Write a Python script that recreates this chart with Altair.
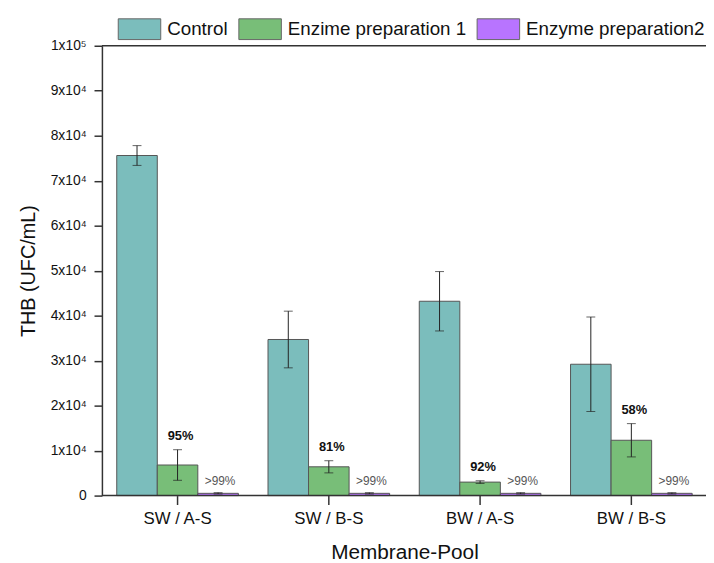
import altair as alt
import pandas as pd

groups = ["SW / A-S", "SW / B-S", "BW / A-S", "BW / B-S"]
series = ["Control", "Enzime preparation 1", "Enzyme preparation2"]
colors = ["#7BBDBC", "#78BE78", "#B874FF"]

control = [75600, 34700, 43200, 29200]
control_err = [2200, 6300, 6600, 10500]
enz1 = [6800, 6400, 3000, 12300]
enz1_err = [3400, 1350, 300, 3700]
enz2 = [500, 500, 500, 500]
enz2_err = [150, 150, 150, 150]

control_labels = ["", "", "", ""]
enz1_labels = ["95%", "81%", "92%", "58%"]
enz2_labels = [">99%", ">99%", ">99%", ">99%"]

y_ticks = [0, 10000, 20000, 30000, 40000, 50000, 60000, 70000, 80000, 90000, 100000]

rows = []
for s, vals, errs, labs in zip(series,
                               [control, enz1, enz2],
                               [control_err, enz1_err, enz2_err],
                               [control_labels, enz1_labels, enz2_labels]):
    for g, v, e, l in zip(groups, vals, errs, labs):
        rows.append({"group": g, "series": s, "value": v, "err": e, "label": l})
df = pd.DataFrame(rows)

base = alt.Chart(df).transform_calculate(
    lo="datum.value - datum.err", hi="datum.value + datum.err"
)

x_enc = alt.X(
    "group:N", sort=groups,
    scale=alt.Scale(range=[0, 612], paddingInner=0.196, paddingOuter=0.098),
    axis=alt.Axis(title="Membrane-Pool", labelAngle=0, domain=False, tickSize=9,
                  tickColor="#333", tickWidth=1.5, labelFontSize=17, labelPadding=6,
                  labelColor="#111", titleFontSize=21, titleFontWeight="normal",
                  titleColor="#111", titlePadding=16),
)
xo_enc = alt.XOffset("series:N", sort=series,
                     scale=alt.Scale(paddingInner=0, paddingOuter=0))
y_axis = alt.Axis(
    values=y_ticks, grid=False, tickSize=8, tickColor="#333", tickWidth=1.5,
    domainColor="#333", domainWidth=1.5, labelFontSize=14, labelPadding=8,
    labelColor="#111",
    labelExpr="datum.value == 0 ? '0' : (datum.value == 100000 ? '1x10\u2075' : (datum.value / 10000) + 'x10\u2074')",
    title="THB (UFC/mL)", titleFontSize=20, titleFontWeight="normal",
    titleColor="#111", titlePadding=12,
)
y_scale = alt.Scale(domain=[0, 100000], nice=False)

bars = base.mark_bar(stroke="#555", strokeWidth=1).encode(
    x=x_enc, xOffset=xo_enc,
    y=alt.Y("value:Q", scale=y_scale, axis=y_axis),
    color=alt.Color(
        "series:N", sort=series,
        scale=alt.Scale(domain=series, range=colors),
        legend=alt.Legend(
            orient="none", legendX=16, legendY=-39, direction="horizontal",
            title=None, symbolType="M-1,-0.488H1V0.488H-1Z", symbolSize=1849,
            symbolStrokeColor="#666", symbolStrokeWidth=1, symbolOpacity=1,
            labelFontSize=19, labelOffset=6, columnPadding=8, labelLimit=400,
            labelColor="#111",
        ),
    ),
)

err_rule = base.mark_rule(color="#222", strokeWidth=1).encode(
    x=x_enc, xOffset=xo_enc,
    y=alt.Y("lo:Q", scale=y_scale, axis=y_axis), y2="hi:Q",
)
cap_hi = base.mark_tick(orient="horizontal", size=9, thickness=1, color="#222").encode(
    x=x_enc, xOffset=xo_enc, y=alt.Y("hi:Q", scale=y_scale, axis=y_axis),
)
cap_lo = base.mark_tick(orient="horizontal", size=9, thickness=1, color="#222").encode(
    x=x_enc, xOffset=xo_enc, y=alt.Y("lo:Q", scale=y_scale, axis=y_axis),
)

lab1 = base.transform_filter(alt.datum.series == series[1]).mark_text(
    fontSize=13, fontWeight="bold", color="#111", dx=3, dy=-10, baseline="alphabetic"
).encode(
    x=x_enc, xOffset=xo_enc, y=alt.Y("hi:Q", scale=y_scale, axis=y_axis), text="label:N"
)
lab2 = base.transform_filter(alt.datum.series == series[2]).mark_text(
    fontSize=12, color="#555", dx=2, dy=-8, baseline="alphabetic"
).encode(
    x=x_enc, xOffset=xo_enc, y=alt.Y("value:Q", scale=y_scale, axis=y_axis), text="label:N"
)

top_line = alt.Chart(pd.DataFrame({"v": [100000]})).mark_rule(
    color="#333", strokeWidth=1.5
).encode(y=alt.Y("v:Q", scale=y_scale, axis=y_axis), x=alt.value(0), x2=alt.value(612))

base_line = alt.Chart(pd.DataFrame({"v": [0]})).mark_rule(
    color="#333", strokeWidth=1.5
).encode(y=alt.Y("v:Q", scale=y_scale, axis=y_axis), x=alt.value(0), x2=alt.value(612))

chart = alt.layer(bars, err_rule, cap_hi, cap_lo, lab1, lab2, top_line, base_line).properties(
    width=604, height=455,
    autosize=alt.AutoSizeParams(type="none"),
    padding={"left": 95, "top": 35, "right": 7, "bottom": 65},
).configure(font="Liberation Sans").configure_view(stroke=None)

chart.save("out.html", embed_options={"renderer": "svg", "actions": False})
